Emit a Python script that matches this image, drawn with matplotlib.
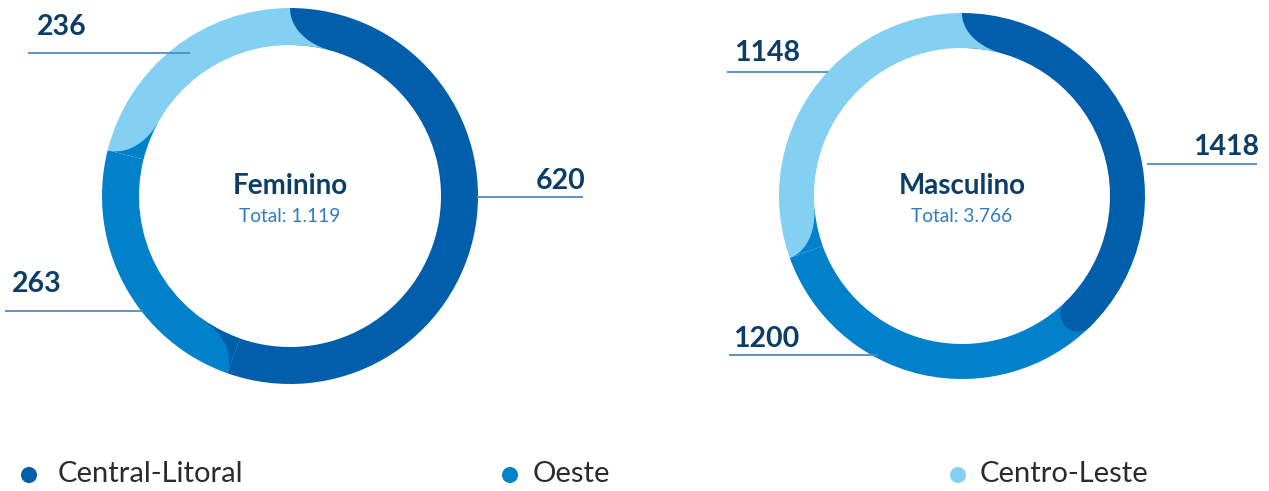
import matplotlib.pyplot as plt
from matplotlib.patches import Wedge, Circle, Polygon
import numpy as np

plt.rcParams['font.family'] = ['Lato', 'DejaVu Sans']

# dados
regioes = ["Central-Litoral", "Oeste", "Centro-Leste"]
cores = ["#005eab", "#0081c9", "#84d0f3"]
fem = [620, 263, 236]
masc = [1418, 1200, 1148]
titulos = ["Feminino", "Masculino"]
totais = ["Total: 1.119", "Total: 3.766"]

W, H = 1269, 491

fig = plt.figure(figsize=(W / 100, H / 100), dpi=100)
ax = fig.add_axes([0, 0, 1, 1])
ax.set_xlim(0, W)
ax.set_ylim(0, H)
ax.set_aspect("equal")
ax.axis("off")


def Y(y):  # coordenada de imagem -> eixo
    return H - y


def ponta(cx, cy, R, w, t1, ext, cor):
    # ponta curva no fim da fatia (avanca mais na borda de dentro)
    u = np.linspace(0, 1, 40)
    r = R - u * w
    e = ext * (1 - np.sqrt(1 - u ** 2))
    th = np.radians(t1) - e / r
    pts = list(zip(cx + r * np.cos(th), cy + r * np.sin(th)))
    ri = R - w
    tha = np.linspace(th[-1], np.radians(t1), 15)
    pts += list(zip(cx + ri * np.cos(tha), cy + ri * np.sin(tha)))
    pts.append((cx + R * np.cos(np.radians(t1)), cy + R * np.sin(np.radians(t1))))
    ax.add_patch(Polygon(pts, closed=True, color=cor, lw=0))


def donut(cx, cy, R, w, valores, titulo, total, redondo):
    tot = sum(valores)
    angs = []
    a = 90.0
    for v in valores:
        span = v / tot * 360
        angs.append((a - span, a))
        a -= span
    for i, (t1, t2) in enumerate(angs):
        ax.add_patch(Wedge((cx, Y(cy)), R, t1, t2, width=w, color=cores[i], lw=0))
    for i, (t1, t2) in enumerate(angs):
        if redondo[i]:
            rm = R - w / 2
            ax.add_patch(Circle((cx + rm * np.cos(np.radians(t1)),
                                 Y(cy) + rm * np.sin(np.radians(t1))),
                                w / 2, color=cores[i], lw=0))
        else:
            ponta(cx, Y(cy), R, w, t1, 40, cores[i])
    ax.text(cx, Y(186), titulo, ha="center", va="center", fontsize=20,
            fontweight="bold", color="#0b3d66")
    ax.text(cx, Y(216), total, ha="center", va="center", fontsize=13.8,
            fontweight="normal", color="#2f7cc0")


donut(290, 196, 188, 37, fem, titulos[0], totais[0], [False, False, False])
donut(962, 196, 183, 35, masc, titulos[1], totais[1], [True, False, False])

# rotulos com linha
rotulos = [
    (fem[0], 536, 181, 477, 583, 197),
    (fem[2], 37, 27, 28, 190, 53),
    (fem[1], 12, 284, 5, 143, 311),
    (masc[0], 1193, 147, 1147, 1257, 164),
    (masc[2], 734, 53, 727, 828, 72),
    (masc[1], 733, 339, 729, 878, 355),
]
for val, tx, ty, x0, x1, ly in rotulos:
    ax.text(tx, Y(ty), str(val), ha="left", va="center", fontsize=20.5,
            fontweight="bold", color="#0b3d66")
    ax.plot([x0, x1], [Y(ly), Y(ly)], color="#4f8ac8", lw=1.3, solid_capstyle="butt")

# legenda
leg_x = [29, 510, 958]
leg_tx = [58, 533, 980]
for i, nome in enumerate(regioes):
    ax.add_patch(Circle((leg_x[i], Y(475)), 8, color=cores[i], lw=0))
    ax.text(leg_tx[i], Y(474), nome, ha="left", va="center", fontsize=21,
            fontweight="normal", color="#2b2b2b")

fig.savefig("out.png", dpi=100)
